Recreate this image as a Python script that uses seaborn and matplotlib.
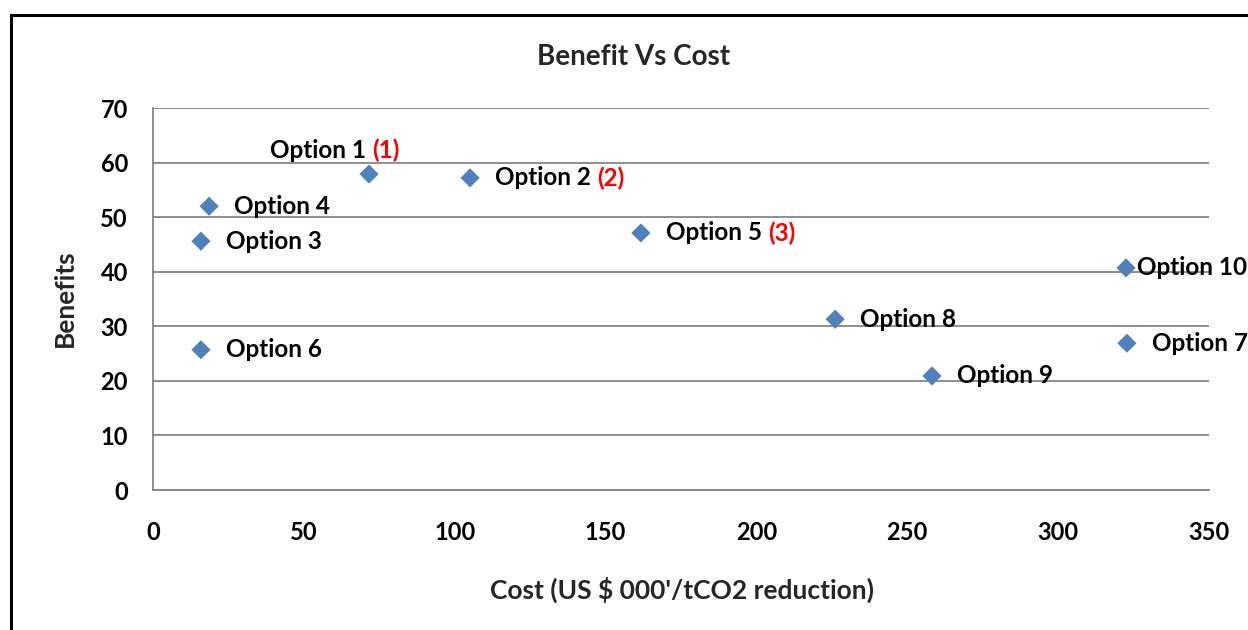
import matplotlib
matplotlib.use("Agg")
import matplotlib.pyplot as plt
from matplotlib.patches import Rectangle
import seaborn as sns
import pandas as pd

# values
options = ["Option 1", "Option 2", "Option 3", "Option 4", "Option 5",
           "Option 6", "Option 7", "Option 8", "Option 9", "Option 10"]
cost = [71.6, 105.1, 15.9, 18.6, 161.7, 15.9, 322.8, 226.1, 258.2, 322.5]
benefit = [57.9, 57.2, 45.6, 52.0, 47.1, 25.7, 26.9, 31.3, 20.9, 40.7]
ranks = ["(1)", "(2)", "", "", "(3)", "", "", "", "", ""]

x_ticks = [0, 50, 100, 150, 200, 250, 300, 350]
y_ticks = [0, 10, 20, 30, 40, 50, 60, 70]

df = pd.DataFrame({"option": options, "cost": cost, "benefit": benefit, "rank": ranks})

sns.set_style("white")
plt.rcParams["font.family"] = ["Lato", "DejaVu Sans"]
plt.rcParams["font.weight"] = "bold"

fig = plt.figure(figsize=(12.48, 6.30), dpi=100)
ax = fig.add_axes([153 / 1248, 1 - 490 / 630, (1209 - 153) / 1248, (490 - 108) / 630])

sns.scatterplot(data=df, x="cost", y="benefit", marker="D", s=95,
                color="#4F81BD", edgecolor="none", ax=ax, zorder=3, clip_on=False)

ax.set_xlim(0, 350)
ax.set_ylim(0, 70)
ax.set_xticks(x_ticks)
ax.set_yticks(y_ticks)
ax.tick_params(axis="both", labelsize=17, colors="black")
ax.tick_params(axis="x", length=8, color="#868686", width=1.3, pad=14)
ax.tick_params(axis="y", length=8, color="#868686", width=1.3, pad=10)
for t in ax.get_xticklabels() + ax.get_yticklabels():
    t.set_fontweight("bold")

ax.grid(axis="y", color="#868686", lw=1.3)
ax.set_axisbelow(True)
for side in ["top", "right"]:
    ax.spines[side].set_visible(False)
for side in ["left", "bottom"]:
    ax.spines[side].set_color("#868686")
    ax.spines[side].set_linewidth(1.3)

ax.set_xlabel("")
ax.set_ylabel("")

# label placement in points relative to each marker
offsets = {"Option 1": (-71, 17), "Option 10": (8, 0)}
for _, row in df.iterrows():
    dx, dy = offsets.get(row["option"], (18, 0))
    txt = ax.annotate(row["option"] + (" " if row["rank"] else ""),
                      (row["cost"], row["benefit"]), xytext=(dx, dy),
                      textcoords="offset points", ha="left", va="center",
                      fontsize=17.5, fontweight="bold", color="black",
                      annotation_clip=False, zorder=4)
    if row["rank"]:
        ax.annotate(row["rank"], xy=(1, 0.5), xycoords=txt, ha="left", va="center",
                    fontsize=17.5, fontweight="bold", color="#FF0000", zorder=4)

fig.text(634 / 1248, 1 - 57 / 630, "Benefit Vs Cost", ha="center", va="center",
         fontsize=20, fontweight="bold")
fig.text(682 / 1248, 1 - 590 / 630, "Cost (US $ 000'/tCO2 reduction)", ha="center",
         va="center", fontsize=19, fontweight="bold")
fig.text(65 / 1248, 1 - 298 / 630, "Benefits", ha="center", va="center",
         rotation=90, fontsize=19, fontweight="bold")

# chart frame, only top and left edges visible in the reference
fig.add_artist(Rectangle((11 / 1248, -0.2), 1.2, 1.2 - 15 / 630,
                         transform=fig.transFigure, fill=False, lw=2.2, color="black"))

fig.savefig("out.png", dpi=100, facecolor="white")
